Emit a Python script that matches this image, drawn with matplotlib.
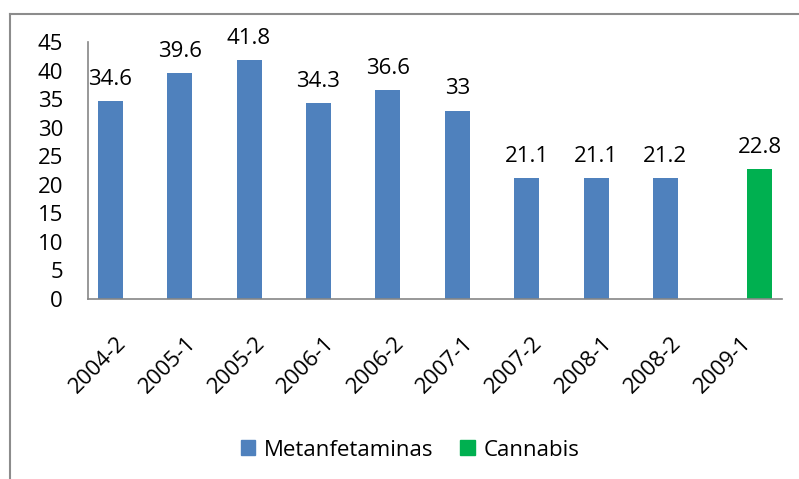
import matplotlib
matplotlib.use("Agg")
import matplotlib.pyplot as plt
import matplotlib.transforms as mtransforms
import numpy as np
from matplotlib.lines import Line2D
from matplotlib.patches import Patch

categories = ["2004-2", "2005-1", "2005-2", "2006-1", "2006-2", "2007-1", "2007-2", "2008-1", "2008-2", "2009-1"]
metanfetaminas = [34.6, 39.6, 41.8, 34.3, 36.6, 33, 21.1, 21.1, 21.2, None]
cannabis = [None, None, None, None, None, None, None, None, None, 22.8]
yticks = [0, 5, 10, 15, 20, 25, 30, 35, 40, 45]

plt.rcParams['font.family'] = ['Open Sans', 'DejaVu Sans']
W, H = 799, 479
fig = plt.figure(figsize=(W/100, H/100), dpi=100)
ax = fig.add_axes([88/W, 1-299/H, (782-88)/W, (299-42)/H])

blue = "#4f81bd"
green = "#00b050"
bw = 0.36
x = np.arange(len(categories))
FS = 16

def fmt(v):
    return ("%g" % v)

for i, v in enumerate(metanfetaminas):
    if v is not None:
        ax.bar(x[i] - bw/2, v, width=bw, color=blue)
        ax.annotate(fmt(v), (x[i] - bw/2, v), xytext=(0, 8), textcoords="offset points",
                    ha="center", va="bottom", fontsize=FS)
for i, v in enumerate(cannabis):
    if v is not None:
        ax.bar(x[i] + bw/2, v, width=bw, color=green)
        ax.annotate(fmt(v), (x[i] + bw/2, v), xytext=(0, 8), textcoords="offset points",
                    ha="center", va="bottom", fontsize=FS)

ax.set_xlim(-0.5, len(categories) - 0.5)
ax.set_ylim(0, 45)
ax.set_yticks(yticks)
ax.set_yticklabels([str(t) for t in yticks], fontsize=FS)
ax.set_xticks(x)
ax.set_xticklabels(categories, rotation=45, ha="right", va="top", rotation_mode="anchor", fontsize=FS)
ax.tick_params(axis="both", length=0)
ax.tick_params(axis="y", pad=18)
ax.tick_params(axis="x", pad=24)
shift = mtransforms.ScaledTranslation(-7/100, 0, fig.dpi_scale_trans)
for lab in ax.get_xticklabels():
    lab.set_transform(lab.get_transform() + shift)
for s in ["top", "right"]:
    ax.spines[s].set_visible(False)
for s in ["left", "bottom"]:
    ax.spines[s].set_color("#868686")
    ax.spines[s].set_linewidth(1.2)

handles = [Patch(color=blue, label="Metanfetaminas"), Patch(color=green, label="Cannabis")]
fig.legend(handles=handles, loc="center", bbox_to_anchor=(410/W, 1-450/H), ncol=2, frameon=False,
           fontsize=FS, handlelength=0.65, handleheight=0.65, handletextpad=0.4, columnspacing=1.2)

fig.add_artist(Line2D([9.5/W, 9.5/W], [0, 1-14/H], color="#8c8c8c", lw=1.5, transform=fig.transFigure))
fig.add_artist(Line2D([9.5/W, 1], [1-14/H, 1-14/H], color="#8c8c8c", lw=1.5, transform=fig.transFigure))

fig.savefig("out.png", dpi=100)
